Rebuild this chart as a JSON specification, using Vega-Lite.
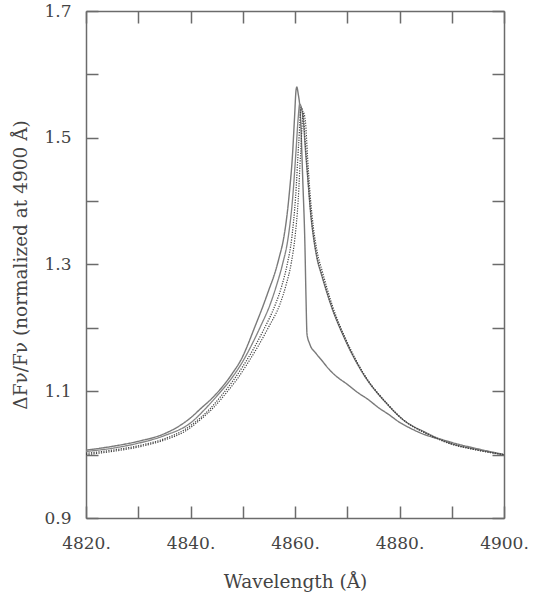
{
  "$schema": "https://vega.github.io/schema/vega-lite/v6.json",
  "width": 418,
  "height": 507,
  "autosize": {"type": "none"},
  "padding": {"left": 86, "top": 11, "right": 29, "bottom": 81},
  "background": "white",
  "config": {
    "view": {"stroke": null},
    "axis": {
      "grid": false,
      "domainColor": "#6b6b6b",
      "domainWidth": 1.5,
      "tickColor": "#6b6b6b",
      "tickWidth": 1.5,
      "labelFont": "DejaVu Serif",
      "labelFontSize": 17,
      "labelColor": "#444",
      "labelFlush": false,
      "titleFont": "DejaVu Serif",
      "titleFontSize": 18.5,
      "titleFontWeight": "normal",
      "titleColor": "#444"
    }
  },
  "data": {"values": [
    {"c":"A","w":4820,"f":1.007},{"c":"A","w":4825,"f":1.013},{"c":"A","w":4830,"f":1.021},{"c":"A","w":4835,"f":1.033},{"c":"A","w":4838,"f":1.046},{"c":"A","w":4840,"f":1.058},{"c":"A","w":4842,"f":1.073},{"c":"A","w":4844,"f":1.088},{"c":"A","w":4846,"f":1.106},{"c":"A","w":4848,"f":1.128},{"c":"A","w":4850,"f":1.155},{"c":"A","w":4851,"f":1.174},{"c":"A","w":4852,"f":1.195},{"c":"A","w":4853.9,"f":1.235},{"c":"A","w":4855,"f":1.26},{"c":"A","w":4856.2,"f":1.288},{"c":"A","w":4857,"f":1.312},{"c":"A","w":4857.8,"f":1.34},{"c":"A","w":4858.5,"f":1.38},{"c":"A","w":4859,"f":1.42},{"c":"A","w":4859.5,"f":1.47},{"c":"A","w":4859.9,"f":1.53},{"c":"A","w":4860.2,"f":1.575},{"c":"A","w":4860.35,"f":1.58},{"c":"A","w":4860.6,"f":1.57},{"c":"A","w":4861,"f":1.54},{"c":"A","w":4861.5,"f":1.43},{"c":"A","w":4861.9,"f":1.33},{"c":"A","w":4862.1,"f":1.25},{"c":"A","w":4862.3,"f":1.19},{"c":"A","w":4862.8,"f":1.175},{"c":"A","w":4864,"f":1.16},{"c":"A","w":4865,"f":1.15},{"c":"A","w":4866.7,"f":1.133},{"c":"A","w":4868,"f":1.123},{"c":"A","w":4870,"f":1.111},{"c":"A","w":4872,"f":1.098},{"c":"A","w":4874,"f":1.087},{"c":"A","w":4876,"f":1.074},{"c":"A","w":4878,"f":1.063},{"c":"A","w":4880,"f":1.051},{"c":"A","w":4882,"f":1.042},{"c":"A","w":4885,"f":1.031},{"c":"A","w":4888,"f":1.024},{"c":"A","w":4891,"f":1.017},{"c":"A","w":4895,"f":1.009},{"c":"A","w":4900,"f":1.0},
    {"c":"B","w":4820,"f":1.005},{"c":"B","w":4825,"f":1.01},{"c":"B","w":4830,"f":1.018},{"c":"B","w":4835,"f":1.03},{"c":"B","w":4840,"f":1.05},{"c":"B","w":4842.8,"f":1.072},{"c":"B","w":4845,"f":1.092},{"c":"B","w":4848,"f":1.122},{"c":"B","w":4850,"f":1.147},{"c":"B","w":4852,"f":1.178},{"c":"B","w":4853.5,"f":1.204},{"c":"B","w":4855.2,"f":1.236},{"c":"B","w":4856.5,"f":1.268},{"c":"B","w":4857.6,"f":1.3},{"c":"B","w":4858.7,"f":1.343},{"c":"B","w":4859.5,"f":1.4},{"c":"B","w":4860.2,"f":1.48},{"c":"B","w":4860.6,"f":1.53},{"c":"B","w":4860.9,"f":1.553},{"c":"B","w":4861.2,"f":1.548},{"c":"B","w":4861.6,"f":1.525},{"c":"B","w":4862,"f":1.48},{"c":"B","w":4862.5,"f":1.43},{"c":"B","w":4863,"f":1.38},{"c":"B","w":4863.5,"f":1.345},{"c":"B","w":4864.2,"f":1.31},{"c":"B","w":4865.1,"f":1.283},{"c":"B","w":4867,"f":1.233},{"c":"B","w":4869.6,"f":1.181},{"c":"B","w":4873,"f":1.128},{"c":"B","w":4877.5,"f":1.081},{"c":"B","w":4880.7,"f":1.055},{"c":"B","w":4885,"f":1.035},{"c":"B","w":4889.7,"f":1.018},{"c":"B","w":4895,"f":1.008},{"c":"B","w":4900,"f":1.0},
    {"c":"C","w":4820,"f":1.002},{"c":"C","w":4825,"f":1.007},{"c":"C","w":4830,"f":1.014},{"c":"C","w":4835,"f":1.025},{"c":"C","w":4839,"f":1.04},{"c":"C","w":4841,"f":1.052},{"c":"C","w":4843.7,"f":1.072},{"c":"C","w":4846,"f":1.094},{"c":"C","w":4848,"f":1.115},{"c":"C","w":4850,"f":1.139},{"c":"C","w":4852,"f":1.166},{"c":"C","w":4854,"f":1.197},{"c":"C","w":4856.2,"f":1.236},{"c":"C","w":4857.5,"f":1.267},{"c":"C","w":4858.5,"f":1.3},{"c":"C","w":4859.4,"f":1.343},{"c":"C","w":4860.1,"f":1.405},{"c":"C","w":4860.7,"f":1.49},{"c":"C","w":4861.2,"f":1.548},{"c":"C","w":4861.6,"f":1.535},{"c":"C","w":4862,"f":1.487},{"c":"C","w":4862.5,"f":1.432},{"c":"C","w":4863,"f":1.382},{"c":"C","w":4863.5,"f":1.347},{"c":"C","w":4864.2,"f":1.312},{"c":"C","w":4865.1,"f":1.285},{"c":"C","w":4867,"f":1.234},{"c":"C","w":4869.6,"f":1.182},{"c":"C","w":4873,"f":1.129},{"c":"C","w":4877.5,"f":1.081},{"c":"C","w":4880.7,"f":1.055},{"c":"C","w":4885,"f":1.034},{"c":"C","w":4889.7,"f":1.018},{"c":"C","w":4895,"f":1.007},{"c":"C","w":4900,"f":1.0},
    {"c":"D","w":4820,"f":1.0},{"c":"D","w":4825,"f":1.005},{"c":"D","w":4830,"f":1.012},{"c":"D","w":4835,"f":1.023},{"c":"D","w":4839,"f":1.037},{"c":"D","w":4842,"f":1.056},{"c":"D","w":4844.5,"f":1.075},{"c":"D","w":4847,"f":1.099},{"c":"D","w":4849,"f":1.12},{"c":"D","w":4851,"f":1.145},{"c":"D","w":4853,"f":1.172},{"c":"D","w":4855,"f":1.202},{"c":"D","w":4857.1,"f":1.237},{"c":"D","w":4858.3,"f":1.268},{"c":"D","w":4859.3,"f":1.303},{"c":"D","w":4860,"f":1.343},{"c":"D","w":4860.6,"f":1.4},{"c":"D","w":4861.1,"f":1.48},{"c":"D","w":4861.6,"f":1.54},{"c":"D","w":4862,"f":1.525},{"c":"D","w":4862.4,"f":1.47},{"c":"D","w":4862.9,"f":1.41},{"c":"D","w":4863.5,"f":1.36},{"c":"D","w":4864.2,"f":1.322},{"c":"D","w":4865.3,"f":1.287},{"c":"D","w":4867.2,"f":1.234},{"c":"D","w":4869.8,"f":1.181},{"c":"D","w":4873.2,"f":1.127},{"c":"D","w":4877.7,"f":1.08},{"c":"D","w":4881,"f":1.053},{"c":"D","w":4885,"f":1.034},{"c":"D","w":4889.7,"f":1.017},{"c":"D","w":4895,"f":1.007},{"c":"D","w":4900,"f":1.0}
  ]},
  "encoding": {
    "x": {"field": "w", "type": "quantitative", "scale": {"domain": [4820, 4900], "nice": false, "zero": false}},
    "y": {"field": "f", "type": "quantitative", "scale": {"domain": [0.9, 1.7], "nice": false, "zero": false}}
  },
  "layer": [
    {
      "mark": {"type": "line", "opacity": 0},
      "encoding": {
        "x": {"field": "w", "type": "quantitative", "axis": {"orient": "top", "title": null, "labels": false, "values": [4820,4830,4840,4850,4860,4870,4880,4890,4900], "tickSize": -12}},
        "y": {"field": "f", "type": "quantitative", "axis": {"orient": "right", "title": null, "labels": false, "values": [0.9,1.0,1.1,1.2,1.3,1.4,1.5,1.6,1.7], "tickSize": -12}},
        "detail": {"field": "c"}
      }
    },
    {
      "mark": {"type": "line", "interpolate": "monotone"},
      "encoding": {
        "x": {"field": "w", "type": "quantitative", "axis": {"orient": "bottom", "title": "Wavelength (Å)", "values": [4820,4830,4840,4850,4860,4870,4880,4890,4900], "labelExpr": "datum.value % 20 == 0 ? datum.value + '.' : ''", "tickSize": -12, "labelPadding": 29, "titlePadding": 21}},
        "y": {"field": "f", "type": "quantitative", "axis": {"orient": "left", "title": "ΔFν/Fν (normalized at 4900 Å)", "values": [0.9,1.0,1.1,1.2,1.3,1.4,1.5,1.6,1.7], "labelExpr": "round(datum.value*10) % 2 == 1 ? format(datum.value, '.1f') : ''", "tickSize": -12, "labelPadding": 27, "titlePadding": 13}},
        "color": {"field": "c", "type": "nominal", "scale": {"domain": ["A","B","C","D"], "range": ["#7a7a7a","#858585","#444444","#444444"]}, "legend": null},
        "strokeDash": {"field": "c", "type": "nominal", "scale": {"domain": ["A","B","C","D"], "range": [[1,0],[1,0],[1.2,1.3],[1.2,1.3]]}, "legend": null},
        "strokeWidth": {"field": "c", "type": "nominal", "scale": {"domain": ["A","B","C","D"], "range": [1.4,1.2,1.8,1.8]}, "legend": null}
      }
    }
  ]
}
